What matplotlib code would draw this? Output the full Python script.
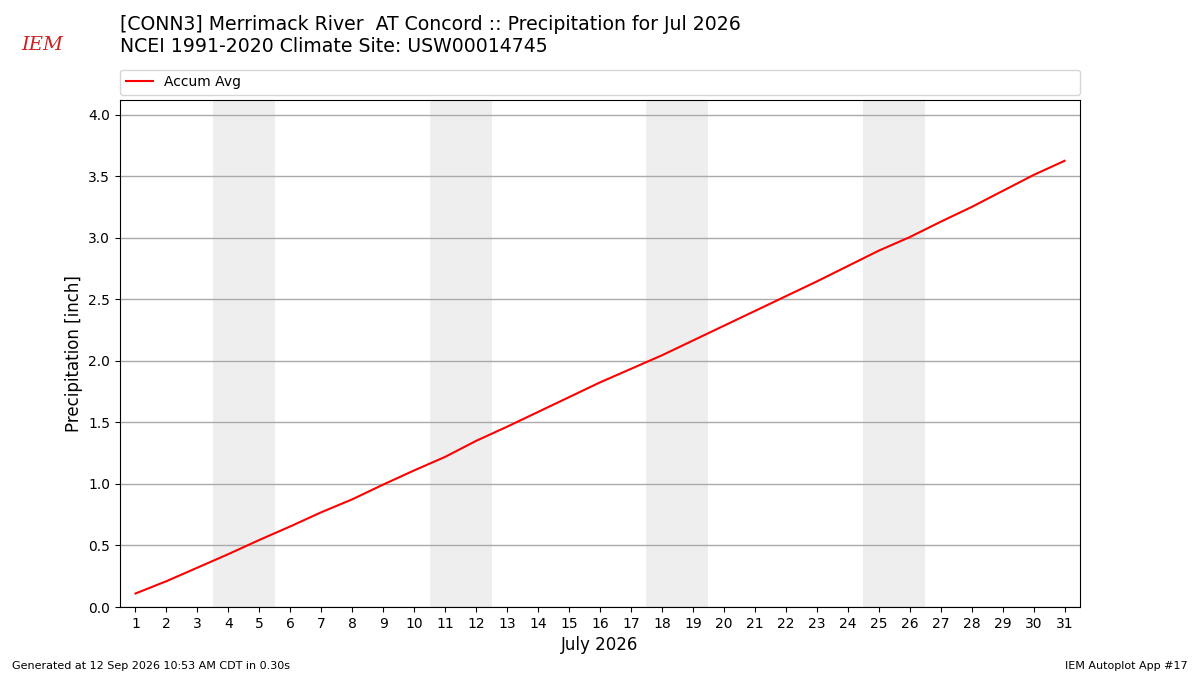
import matplotlib
matplotlib.use("Agg")
import matplotlib.pyplot as plt

days = list(range(1, 32))
accum_avg = [0.11, 0.21, 0.32, 0.43, 0.545, 0.655, 0.77, 0.875, 0.995, 1.11,
             1.22, 1.35, 1.465, 1.585, 1.705, 1.825, 1.935, 2.045, 2.165, 2.285,
             2.405, 2.525, 2.645, 2.77, 2.895, 3.005, 3.13, 3.25, 3.38, 3.51, 3.625]
weekends = [(4, 5), (11, 12), (18, 19), (25, 26)]
title = "[CONN3] Merrimack River  AT Concord :: Precipitation for Jul 2026\nNCEI 1991-2020 Climate Site: USW00014745"

fig = plt.figure(figsize=(12, 6.75), dpi=100)
ax = fig.add_axes([0.1, 0.1007, 0.8, 0.7513])

for a, b in weekends:
    ax.axvspan(a - 0.5, b + 0.5, color="#eeeeee", zorder=0, lw=0)

ax.plot(days, accum_avg, color="red", lw=1.5, label="Accum Avg", zorder=3)
ax.set_xlim(0.5, 31.5)
ax.set_ylim(0, 4.12)
ax.set_xticks(days)
ax.set_yticks([0, 0.5, 1.0, 1.5, 2.0, 2.5, 3.0, 3.5, 4.0])
ax.yaxis.grid(True, color="#aaaaaa", lw=1)
ax.set_axisbelow(True)
ax.set_xlabel("July 2026", fontsize=12)
ax.set_ylabel("Precipitation [inch]", fontsize=12)
ax.tick_params(labelsize=10)

ax.legend(loc="lower left", bbox_to_anchor=(0, 1.01, 1, 0.05), mode="expand",
          ncol=1, fontsize=10, borderaxespad=0, frameon=True)

fig.text(0.1, 0.978, title, fontsize=13.6, va="top", ha="left")
fig.text(0.018, 0.933, "IEM", fontsize=14, color="#cc2222", style="italic",
         family="DejaVu Serif", ha="left", va="center")
fig.text(0.01, 0.006, "Generated at 12 Sep 2026 10:53 AM CDT in 0.30s", fontsize=8, ha="left", va="bottom")
fig.text(0.99, 0.006, "IEM Autoplot App #17", fontsize=8, ha="right", va="bottom")

fig.savefig("out.png", dpi=100)
